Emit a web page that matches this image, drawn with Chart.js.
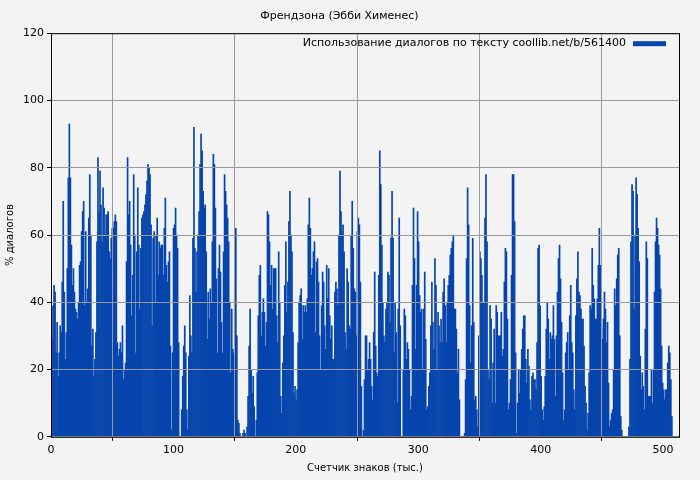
<!DOCTYPE html>
<html>
<head>
<meta charset="utf-8">
<script src="https://cdn.jsdelivr.net/npm/chart.js@4.4.1/dist/chart.umd.min.js"></script>
<style>
  html, body { margin: 0; padding: 0; background: #f3f3f3; }
  #parent { width: 700px; height: 480px; }
</style>
</head>
<body>
<div id="parent"><canvas id="myChart"></canvas></div>
<script>
var title = "Френдзона (Эбби Хименес)";
var seriesLabel = "Использование диалогов по тексту coollib.net/b/561400";
var xTitle = "Счетчик знаков (тыс.)";
var yTitle = "% диалогов";
var totalChars = 508;
var xTicks = [0, 100, 200, 300, 400, 500];
var yTicks = [0, 20, 40, 60, 80, 100, 120];

// % диалогов, read left to right across the text
var part1 = [11,29,39,45,43,25,34,18,25,33,31,46,70,43,23,31,50,77,93,77,57,45,50,43,38,37,35,40,51,52,
  61,67,70,39,61,40,44,65,78,60,27,32,18,23,31,58,83,67,79,69,58,74,68,60,66,66,67,55,53,59,
  62,62,64,66,64,28,24,26,28,25,33,17,20,22,52,83,66,70,57,36,48,78,60,25,55,74,57,38,56,65,
  66,67,69,72,76,81,80,78,63,33,59,61,40,60,65,48,58,56,57,57];
var part2 = [48,62,71,51,46,52,55,27,2,25,62,63,68,60,56,28,0,0,8,18,27,33,25,8,2,24,42,30,25,59,
  92,56,43,55,60,67,81,90,85,73,68,69,55,29,43,35,44,40,58,84,81,68,47,25,50,57,49,34,25,55,
  78,73,69,65,58,40,19,38,26,25,45,62,30,5,4,1,0,0,1,2,1,0,3,12,27,38,20,13,18,9,
  0,5,19,36,48,51,30,37,41,37,27,34,67,66,58,45,51,38,50,50];
var part3 = [50,36,28,55,40,12,7,22,30,45,58,37,46,64,73,60,55,31,13,15,11,14,28,40,42,44,29,39,37,39,
  37,41,63,71,62,48,50,55,58,31,52,53,46,30,20,39,49,46,33,26,51,41,50,36,29,33,23,23,43,46,
  44,39,60,79,67,61,63,55,31,26,50,46,33,32,60,70,56,44,43,30,61,65,63,46,15,0,2,17,30,30,
  20,23,28,23,15,11,31,49,27,19,18,48,85,75,57,40,30,28,38,40];
var part4 = [49,48,34,59,73,59,25,40,31,10,38,65,33,0,0,20,38,36,23,28,26,20,8,12,45,68,53,26,45,67,
  58,42,37,38,20,38,49,29,8,9,15,19,33,46,34,26,53,45,20,37,33,28,35,28,43,47,39,28,40,45,
  48,54,56,58,60,38,38,32,19,26,11,0,0,0,0,1,17,53,74,63,39,22,33,59,34,11,12,8,3,30,
  55,53,48,40,40,65,78,58,20,17,39,35,10,22,32,10,39,37,30,30];
var part5 = [30,37,24,26,46,56,55,35,8,10,17,48,78,78,64,25,1,10,20,13,20,26,32,36,36,23,16,26,21,11,
  8,18,19,17,17,14,28,56,57,39,18,8,5,9,18,32,40,35,23,31,29,30,39,29,12,30,43,53,57,47,
  34,19,5,8,25,28,31,20,36,45,28,25,14,8,36,47,55,43,42,38,35,35,27,15,10,2,7,19,39,38,
  56,45,41,35,35,41,51,62,51,32,29,35,43,38,28,34,16,3,5,7,8,20,44,39,47,54,56,30,6,2,
  0,0,0,0,0,0,3,23,58,75,73,38,60,77,72,62,52,24,14,19,15,8,32,58,53,12,12,12,20,10,
  20,43,58,65,62,57,54,44,27,16,14,11,14,14,22,27,25,17,6];

var values = part1.concat(part2, part3, part4, part5);
var step = totalChars / values.length;
var points = values.map(function (v, i) { return { x: i * step, y: v }; });

var frame = {
  id: 'frame',
  afterDraw: function (chart) {
    var a = chart.chartArea, c = chart.ctx;
    c.save();
    c.strokeStyle = '#000';
    c.lineWidth = 1;
    c.strokeRect(a.left + 0.5, a.top + 0.5, a.right - a.left, a.bottom - a.top);
    // legend inside the plot, top right
    c.font = '11px "DejaVu Sans"';
    c.fillStyle = '#000';
    c.textBaseline = 'middle';
    c.textAlign = 'right';
    var y = a.top + 10;
    c.fillText(seriesLabel, a.right - 53, y);
    c.fillStyle = '#0645ad';
    c.fillRect(a.right - 46, y - 2, 33, 5);
    c.restore();
  }
};

var ctx = document.getElementById('myChart');
new Chart(ctx, {
  type: 'bar',
  data: {
    datasets: [{
      label: seriesLabel,
      data: points,
      backgroundColor: '#0645ad',
      borderWidth: 0,
      barPercentage: 1.0,
      categoryPercentage: 1.0
    }]
  },
  options: {
    animation: false,
    responsive: true,
    maintainAspectRatio: false,
    layout: { padding: { left: 0, right: 21, top: 0, bottom: 2 } },
    plugins: {
      legend: { display: false },
      tooltip: { enabled: false },
      title: {
        display: true,
        text: title,
        color: '#000',
        font: { family: 'DejaVu Sans', size: 11, weight: 'normal' },
        padding: { top: 10, bottom: 10 }
      }
    },
    scales: {
      x: {
        type: 'linear',
        min: 0,
        max: 513,
        offset: false,
        afterBuildTicks: function (axis) { axis.ticks = xTicks.map(function (v) { return { value: v }; }); },
        grid: { color: '#999', borderDash: [2, 2], tickColor: '#000', tickLength: 4, z: 1, drawOnChartArea: true },
        border: { display: false },
        ticks: { color: '#000', font: { family: 'DejaVu Sans', size: 11 }, maxRotation: 0 },
        title: { display: true, text: xTitle, color: '#000', font: { family: 'DejaVu Sans', size: 10 }, padding: { top: 2 } }
      },
      y: {
        min: 0,
        max: 120,
        afterBuildTicks: function (axis) { axis.ticks = yTicks.map(function (v) { return { value: v }; }); },
        grid: { color: '#999', borderDash: [2, 2], tickColor: '#000', tickLength: 4, z: 1 },
        border: { display: false },
        ticks: { color: '#000', font: { family: 'DejaVu Sans', size: 11 } },
        title: { display: true, text: yTitle, color: '#000', font: { family: 'DejaVu Sans', size: 10 } }
      }
    }
  },
  plugins: [frame]
});
</script>
</body>
</html>
